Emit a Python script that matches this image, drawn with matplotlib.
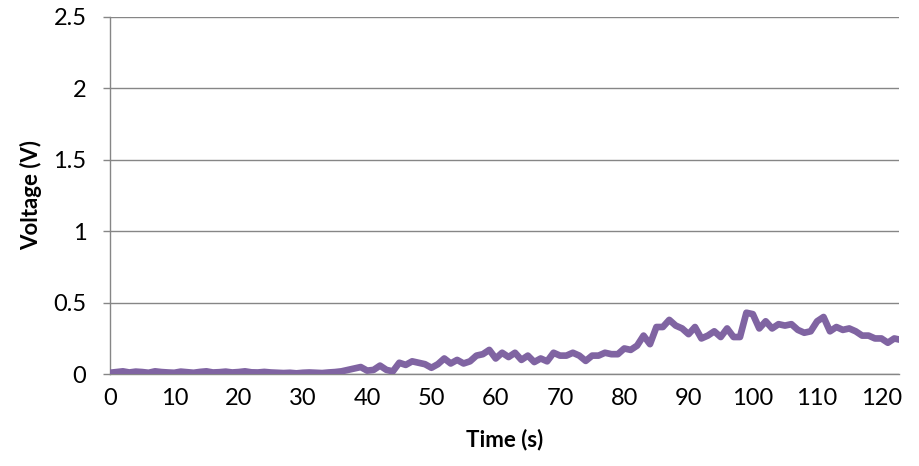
import matplotlib
matplotlib.use("Agg")
import matplotlib.pyplot as plt
import numpy as np

plt.rcParams['font.family'] = ['Lato', 'DejaVu Sans']

time_s = list(range(0, 124))
voltage_v = [
    0.010, 0.015, 0.020, 0.012, 0.018, 0.015, 0.010, 0.020, 0.015, 0.012,
    0.010, 0.018, 0.014, 0.010, 0.016, 0.020, 0.012, 0.014, 0.018, 0.012,
    0.015, 0.020, 0.013, 0.012, 0.016, 0.012, 0.010, 0.008, 0.010, 0.006,
    0.010, 0.012, 0.010, 0.008, 0.012, 0.015, 0.020, 0.030, 0.040, 0.050,
    0.025, 0.030, 0.060, 0.030, 0.020, 0.080, 0.065, 0.090, 0.080, 0.070,
    0.045, 0.070, 0.110, 0.075, 0.100, 0.075, 0.090, 0.130, 0.140, 0.170,
    0.110, 0.150, 0.120, 0.150, 0.100, 0.130, 0.085, 0.110, 0.090, 0.150,
    0.130, 0.130, 0.150, 0.130, 0.093, 0.130, 0.130, 0.150, 0.140, 0.140,
    0.180, 0.170, 0.200, 0.270, 0.210, 0.330, 0.330, 0.380, 0.340, 0.320,
    0.280, 0.330, 0.250, 0.270, 0.300, 0.260, 0.320, 0.260, 0.260, 0.430,
    0.420, 0.320, 0.370, 0.320, 0.350, 0.340, 0.350, 0.310, 0.290, 0.300,
    0.370, 0.400, 0.300, 0.330, 0.310, 0.320, 0.300, 0.270, 0.270, 0.250,
    0.250, 0.220, 0.250, 0.240,
]
x_ticks = [0, 10, 20, 30, 40, 50, 60, 70, 80, 90, 100, 110, 120]
y_ticks = [0, 0.5, 1, 1.5, 2, 2.5]
y_tick_labels = ['0', '0.5', '1', '1.5', '2', '2.5']

fig = plt.figure(figsize=(9.2, 4.66), dpi=100)
ax = fig.add_axes([0.1196, 0.197, 0.858, 0.767])

ax.plot(time_s, voltage_v, color='#8064A2', linewidth=4.8, solid_joinstyle='round',
        solid_capstyle='round', zorder=3)

ax.set_xlim(0, 122.8)
ax.set_ylim(0, 2.5)
ax.set_xticks(x_ticks)
ax.set_xticklabels([str(t) for t in x_ticks])
ax.set_yticks(y_ticks)
ax.set_yticklabels(y_tick_labels)

ax.grid(axis='y', color='#868686', linewidth=1.0)
ax.set_axisbelow(True)
for s in ['top', 'right']:
    ax.spines[s].set_visible(False)
for s in ['left', 'bottom']:
    ax.spines[s].set_color('#868686')
    ax.spines[s].set_linewidth(1.0)

ax.tick_params(axis='y', length=5, width=1, color='#868686', pad=12, labelsize=17)
ax.tick_params(axis='x', length=0, pad=10, labelsize=17)

ax.set_xlabel('Time (s)', fontsize=16, fontweight='bold', labelpad=14)
ax.set_ylabel('Voltage (V)', fontsize=16, fontweight='bold', labelpad=8)

fig.savefig('out.png', dpi=100)
